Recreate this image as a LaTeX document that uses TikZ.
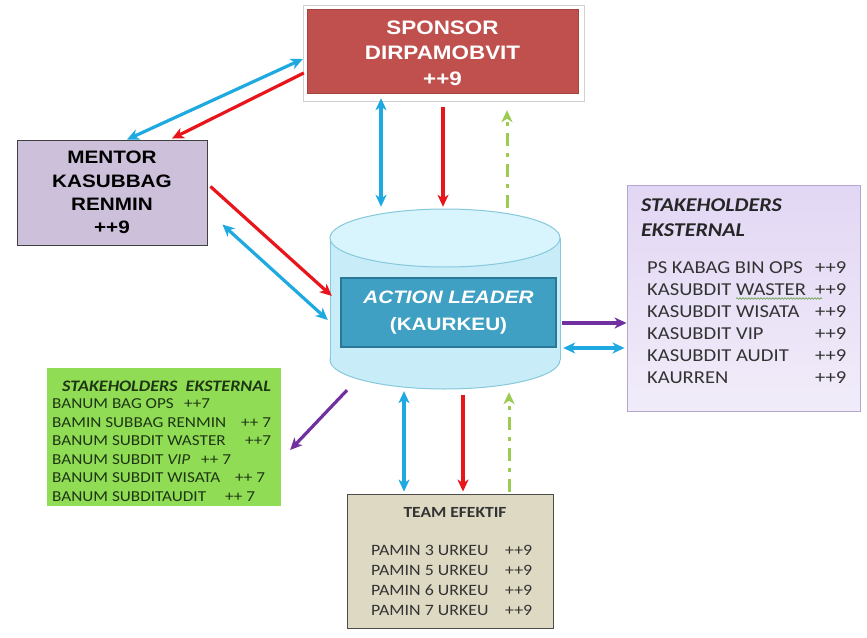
\documentclass[tikz,border=0pt]{standalone}
\usepackage{fontspec}
\setmainfont{Liberation Sans}
\newfontfamily\arw[FakeStretch=1.15]{Liberation Sans}
\newfontfamily\clw[FakeStretch=1.13]{Carlito}
\usetikzlibrary{arrows.meta,calc,decorations.pathmorphing}
\definecolor{cblue}{HTML}{1FA9E1}
\definecolor{cred}{HTML}{E8161B}
\definecolor{cgreen}{HTML}{9BCB50}
\definecolor{cpurple}{HTML}{7030A0}
\definecolor{sponsorred}{HTML}{C0504D}
\definecolor{mentorfill}{HTML}{CCC0DA}
\definecolor{teamfill}{HTML}{DDD9C3}
\definecolor{greenfill}{HTML}{90DC55}
\definecolor{rboxtop}{HTML}{E2D7F4}
\definecolor{rboxbot}{HTML}{F1ECF9}
\definecolor{rboxline}{HTML}{B5A7CC}
\definecolor{cylfill}{HTML}{C8EDF8}
\definecolor{cyltop}{HTML}{D8F4FC}
\definecolor{cylline}{HTML}{86C8DC}
\definecolor{alfill}{HTML}{3FA0C3}
\definecolor{alline}{HTML}{2A7896}
\definecolor{txtgray}{HTML}{333333}
\definecolor{txtgreen}{HTML}{1E3614}
\definecolor{wavy}{HTML}{5A9A3A}
\begin{document}
\begin{tikzpicture}[x=1pt,y=-1pt,
  tp/.tip={Stealth[length=12pt,width=11pt,inset=3.5pt]},
  conn/.style={line width=3.2pt},
  bluearr/.style={conn,draw=cblue,tp-tp},
  redarr/.style={conn,draw=cred,-tp},
  purparr/.style={conn,draw=cpurple,-tp},
  greenarr/.style={line width=3pt,draw=cgreen,dash pattern=on 13pt off 7pt on 4pt off 7pt,-tp},
  sponsorbox/.style={fill=sponsorred,draw=sponsorred!85!black,minimum width=271pt,minimum height=84pt,inner sep=0pt},
  sponsortext/.style={inner sep=0pt,align=center,text=white,font=\arw\bfseries\fontsize{19.5}{25.5}\selectfont},
  mentorbox/.style={fill=mentorfill,draw=black!75,line width=0.9pt,minimum width=190pt,minimum height=105pt,inner sep=0pt,align=center,text=black,font=\arw\bfseries\fontsize{18}{23.3}\selectfont},
  albox/.style={fill=alfill,draw=alline,line width=1.2pt,minimum width=215pt,minimum height=69pt,inner sep=0pt,align=center,text=white,font=\arw\bfseries\fontsize{18}{27}\selectfont},
  rbox/.style={top color=rboxtop,bottom color=rboxbot,draw=rboxline,line width=0.9pt,minimum width=233pt,minimum height=226pt,inner sep=0pt},
  gbox/.style={fill=greenfill,draw=none,minimum width=234pt,minimum height=138pt,inner sep=0pt},
  tbox/.style={fill=teamfill,draw=black!70,line width=0.9pt,minimum width=206pt,minimum height=134pt,inner sep=0pt},
  listtxt/.style={anchor=west,inner sep=0pt,align=left},
]
\useasboundingbox[fill=white] (0,0) rectangle (867,637);

% sponsor with white frame
\draw[fill=white,draw=black!18,line width=0.8pt] (303,5) rectangle (584,101);
\node[sponsorbox] (sponsor) at (442.5,51) {};
\node[sponsortext] (sponsortxt) at (442.5,53) {SPONSOR\\DIRPAMOBVIT\\++9};

% mentor
\node[mentorbox] (mentor) at (112,192.5) {MENTOR\\KASUBBAG\\RENMIN\\++9};

% cylinder
\draw[fill=cylfill,draw=cylline,line width=1pt] (445,360) ellipse[x radius=115,y radius=29];
\fill[cylfill] (330,238) rectangle (560,360);
\draw[cylline,line width=1pt] (330,238) -- (330,360) (560,238) -- (560,360);
\draw[fill=cyltop,draw=cylline,line width=1pt] (445,238) ellipse[x radius=115,y radius=29];
\node[minimum width=230pt,minimum height=180pt,inner sep=0pt] (cyl) at (445,299) {};
\node[albox] (al) at (448.5,312.5) {{\itshape ACTION LEADER}\\(KAURKEU)};

% right stakeholders
\node[rbox] (sh1) at (743.5,298) {};
\node[listtxt,text=black!85,font=\clw\bfseries\itshape\fontsize{19.5}{25}\selectfont] (sh1h) at (641,217.5) {STAKEHOLDERS\\EKSTERNAL};
\node[listtxt,text=txtgray,font=\clw\fontsize{18.2}{22}\selectfont] (sh1l) at (647,323) {%
\makebox[168pt][l]{PS KABAG BIN OPS}++9\\
\makebox[168pt][l]{KASUBDIT WASTER}++9\\
\makebox[168pt][l]{KASUBDIT WISATA}++9\\
\makebox[168pt][l]{KASUBDIT VIP}++9\\
\makebox[168pt][l]{KASUBDIT AUDIT}++9\\
\makebox[168pt][l]{KAURREN}++9};
\draw[decorate,decoration={snake,amplitude=0.8pt,segment length=3pt},draw=wavy,line width=0.6pt] (736,298.5) -- (822,298.5);

% left green stakeholders
\node[gbox] (sh2) at (164,437) {};
\node[listtxt,text=txtgreen,font=\clw\bfseries\itshape\fontsize{16}{19}\selectfont] (sh2h) at (62,386) {STAKEHOLDERS\ \ EKSTERNAL};
\node[listtxt,text=txtgreen,font=\clw\fontsize{15.2}{18.5}\selectfont] (sh2l) at (52,450) {%
\makebox[132pt][l]{BANUM BAG OPS}++7\\
\makebox[189pt][l]{BAMIN SUBBAG RENMIN}++ 7\\
\makebox[193pt][l]{BANUM SUBDIT WASTER}++7\\
\makebox[149pt][l]{BANUM SUBDIT \textit{VIP}}++ 7\\
\makebox[183pt][l]{BANUM SUBDIT WISATA}++ 7\\
\makebox[173pt][l]{BANUM SUBDITAUDIT}++ 7};

% team
\node[tbox] (team) at (450,561) {};
\node[inner sep=0pt,text=black!80,font=\clw\bfseries\fontsize{15.5}{19}\selectfont] (teamh) at (455,512) {TEAM EFEKTIF};
\node[listtxt,text=black!80,font=\clw\fontsize{15.8}{20}\selectfont] (teaml) at (371,580) {%
\makebox[134pt][l]{PAMIN 3 URKEU}++9\\
\makebox[134pt][l]{PAMIN 5 URKEU}++9\\
\makebox[134pt][l]{PAMIN 6 URKEU}++9\\
\makebox[134pt][l]{PAMIN 7 URKEU}++9};

% connectors
\draw[bluearr] ($(mentor.north)+(15,0)$) -- ($(sponsor.west)+(-4,8)$);
\draw[redarr] ($(sponsor.west)+(-3,22)$) -- ($(mentor.north)+(60,-1)$);
\draw[redarr] ($(mentor.east)+(3,-6)$) -- ($(cyl.west)+(2,-3)$);
\draw[bluearr] ($(mentor.east)+(15,32)$) -- ($(cyl.west)+(-2,21)$);
\draw[bluearr] ($(sponsor.south)+(-61.5,5)$) -- ($(cyl.north)+(-64,-2)$);
\draw[redarr] ($(sponsor.south)+(0.5,14)$) -- ($(cyl.north)+(-2,-2)$);
\draw[greenarr] ($(cyl.north)+(62,-1)$) -- ($(sponsor.south)+(64.5,17)$);
\draw[purparr] ($(cyl.east)+(2,24)$) -- ($(sh1.west)+(0,25)$);
\draw[bluearr] ($(cyl.east)+(3,49)$) -- ($(sh1.west)+(-2,50)$);
\draw[purparr] ($(cyl.south)+(-98,1)$) -- ($(sh2.east)+(9,13)$);
\draw[bluearr] ($(cyl.south)+(-41,2)$) -- ($(team.north)+(-46,-2)$);
\draw[redarr] ($(cyl.south)+(18,6)$) -- ($(team.north)+(13,-2)$);
\draw[greenarr] ($(team.north)+(59,-2)$) -- ($(cyl.south)+(64,3)$);
\end{tikzpicture}
\end{document}
